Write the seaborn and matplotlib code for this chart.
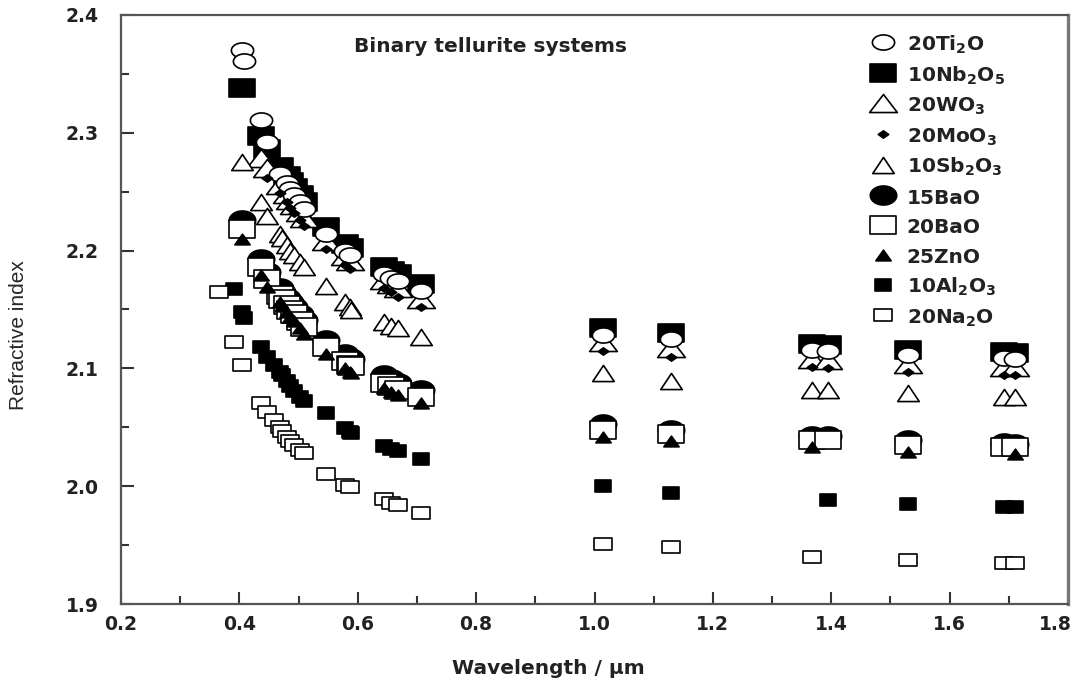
import numpy as np
import matplotlib
matplotlib.use("Agg")
import matplotlib.pyplot as plt
from matplotlib.path import Path
from matplotlib.transforms import ScaledTranslation
from matplotlib.ticker import MultipleLocator, FormatStrFormatter
import seaborn as sns

# ---------------- data (wavelength in um, refractive index) ----------------
W_TI = [0.4047, 0.4078, 0.4358, 0.4471, 0.4678, 0.4800, 0.4861, 0.4922, 0.5016, 0.5086, 0.5461, 0.5780,
        0.5876, 0.6438, 0.6563, 0.6678, 0.7065, 1.0140, 1.1287, 1.3673, 1.3951, 1.5295, 1.6920, 1.7109]
N_TI = [2.370, 2.361, 2.311, 2.292, 2.265, 2.257, 2.252, 2.247, 2.241, 2.235, 2.214, 2.200,
        2.196, 2.180, 2.177, 2.174, 2.166, 2.128, 2.125, 2.116, 2.115, 2.111, 2.109, 2.108]

W_NB = [0.4047, 0.4358, 0.4471, 0.4678, 0.4800, 0.4861, 0.4922, 0.5016, 0.5086, 0.5461, 0.5780, 0.5876,
        0.6438, 0.6563, 0.6678, 0.7065, 1.0140, 1.1287, 1.3673, 1.3951, 1.5295, 1.6920, 1.7109]
N_NB = [2.338, 2.297, 2.286, 2.271, 2.263, 2.258, 2.253, 2.247, 2.241, 2.220, 2.206, 2.202,
        2.186, 2.183, 2.180, 2.172, 2.134, 2.130, 2.121, 2.120, 2.116, 2.114, 2.113]

W_WO = [0.4358, 0.4471, 0.4678, 0.4800, 0.4861, 0.4922, 0.5016, 0.5086, 0.5461, 0.5780, 0.5876,
        0.6438, 0.6563, 0.6678, 0.7065, 1.0140, 1.1287, 1.3673, 1.3951, 1.5295, 1.6920, 1.7109]
N_WO = [2.279, 2.270, 2.256, 2.248, 2.243, 2.239, 2.233, 2.228, 2.208, 2.195, 2.191,
        2.175, 2.172, 2.168, 2.159, 2.122, 2.117, 2.108, 2.107, 2.104, 2.101, 2.101]

W_MO = [0.4471, 0.4678, 0.4800, 0.4861, 0.4922, 0.5016, 0.5086, 0.5461, 0.5780, 0.5876,
        0.6438, 0.6563, 0.6678, 0.7065, 1.0140, 1.1287, 1.3673, 1.3951, 1.5295, 1.6920, 1.7109]
N_MO = [2.262, 2.249, 2.241, 2.236, 2.232, 2.226, 2.221, 2.201, 2.188, 2.184,
        2.168, 2.165, 2.161, 2.152, 2.115, 2.110, 2.101, 2.100, 2.097, 2.094, 2.094]

W_SB = [0.4047, 0.4358, 0.4471, 0.4678, 0.4713, 0.4800, 0.4861, 0.4922, 0.5016, 0.5086, 0.5461, 0.5780,
        0.5876, 0.5893, 0.6438, 0.6563, 0.6678, 0.7065, 1.0140, 1.1287, 1.3673, 1.3951, 1.5295, 1.6920, 1.7109]
N_SB = [2.275, 2.241, 2.229, 2.214, 2.211, 2.205, 2.200, 2.196, 2.190, 2.186, 2.170, 2.156,
        2.152, 2.150, 2.139, 2.136, 2.134, 2.127, 2.096, 2.089, 2.082, 2.082, 2.079, 2.076, 2.076]

W_BA = [0.4047, 0.4358, 0.4471, 0.4678, 0.4713, 0.4800, 0.4861, 0.4922, 0.5016, 0.5086, 0.5461, 0.5780,
        0.5876, 0.5893, 0.6438, 0.6563, 0.6678, 0.7065, 1.0140, 1.1287, 1.3673, 1.3951, 1.5295, 1.6920, 1.7109]
N_BA15 = [2.226, 2.193, 2.182, 2.168, 2.165, 2.160, 2.156, 2.152, 2.146, 2.141, 2.124, 2.112,
          2.109, 2.108, 2.094, 2.091, 2.088, 2.082, 2.053, 2.048, 2.043, 2.043, 2.039, 2.037, 2.036]
N_BA20 = [2.218, 2.186, 2.176, 2.162, 2.159, 2.154, 2.150, 2.146, 2.140, 2.135, 2.118, 2.106,
          2.103, 2.102, 2.088, 2.085, 2.082, 2.076, 2.048, 2.044, 2.039, 2.039, 2.035, 2.033, 2.033]

W_ZN = [0.4047, 0.4358, 0.4471, 0.4678, 0.4713, 0.4800, 0.4861, 0.4922, 0.5016, 0.5086, 0.5461, 0.5780,
        0.5876, 0.5893, 0.6438, 0.6563, 0.6678, 0.7065, 1.0140, 1.1287, 1.3673, 1.5295, 1.7109]
N_ZN = [2.210, 2.179, 2.169, 2.156, 2.153, 2.148, 2.144, 2.140, 2.134, 2.129, 2.112, 2.100,
        2.097, 2.096, 2.083, 2.080, 2.077, 2.071, 2.042, 2.038, 2.033, 2.029, 2.027]

W_AL = [0.3910, 0.4047, 0.4078, 0.4358, 0.4471, 0.4580, 0.4678, 0.4713, 0.4800, 0.4861, 0.4922, 0.5016,
        0.5086, 0.5461, 0.5780, 0.5876, 0.5893, 0.6438, 0.6563, 0.6678, 0.7065, 1.0140, 1.1287, 1.3951,
        1.5295, 1.6920, 1.7109]
N_AL = [2.167, 2.148, 2.143, 2.118, 2.110, 2.103, 2.097, 2.094, 2.089, 2.085, 2.081, 2.076,
        2.072, 2.062, 2.049, 2.046, 2.045, 2.034, 2.032, 2.030, 2.023, 2.000, 1.994, 1.988,
        1.985, 1.982, 1.982]

W_NA = [0.3650, 0.3906, 0.4047, 0.4358, 0.4471, 0.4580, 0.4678, 0.4713, 0.4800, 0.4861, 0.4922, 0.5016,
        0.5086, 0.5461, 0.5780, 0.5876, 0.6438, 0.6563, 0.6678, 0.7065, 1.0140, 1.1287, 1.3673, 1.5295,
        1.6920, 1.7109]
N_NA = [2.165, 2.122, 2.103, 2.071, 2.063, 2.056, 2.050, 2.047, 2.042, 2.038, 2.035, 2.031,
        2.028, 2.010, 2.001, 1.999, 1.989, 1.986, 1.984, 1.977, 1.951, 1.948, 1.940, 1.937,
        1.935, 1.935]

LABELS = [r"20Ti$_{2}$O", r"10Nb$_{2}$O$_{5}$", r"20WO$_{3}$", r"20MoO$_{3}$", r"10Sb$_{2}$O$_{3}$",
          "15BaO", "20BaO", "25ZnO", r"10Al$_{2}$O$_{3}$", r"20Na$_{2}$O"]
X_TICKS = [0.2, 0.4, 0.6, 0.8, 1.0, 1.2, 1.4, 1.6, 1.8]
Y_TICKS = [1.9, 2.0, 2.1, 2.2, 2.3, 2.4]


# ---------------- marker shapes (wide, as in the reference) ----------------
def closed(v):
    v = np.asarray(v, float)
    return Path(np.vstack([v, v[:1]]), closed=True)


def ellipse(r):
    t = np.linspace(0, 2 * np.pi, 72, endpoint=False)
    return closed(np.column_stack([np.cos(t), r * np.sin(t)]))


def box(r):
    return closed([[-1, -r], [1, -r], [1, r], [-1, r]])


def tri(r):
    return closed([[-1, -r], [1, -r], [0, r]])


def diamond(r):
    return closed([[1, 0], [0, r], [-1, 0], [0, -r]])


sns.set_theme(style="ticks")
plt.rcParams['font.family'] = ['DejaVu Sans', 'Liberation Sans']
plt.rcParams['mathtext.fontset'] = 'custom'
plt.rcParams['mathtext.rm'] = 'DejaVu Sans:bold'
plt.rcParams['mathtext.it'] = 'DejaVu Sans:bold'
plt.rcParams['mathtext.bf'] = 'DejaVu Sans:bold'

fig = plt.figure(figsize=(10.8, 6.89), dpi=100)
ax = fig.add_axes([121 / 1080, 1 - 604 / 689, 947 / 1080, 589 / 689])

# (x, y, marker, width in pt, face colour, zorder)
series = [
    (W_TI, N_TI, ellipse(0.68), 16.0, 'white', 4),
    (W_NB, N_NB, box(0.66), 19.0, 'black', 2),
    (W_WO, N_WO, tri(0.65), 20.0, 'white', 3),
    (W_MO, N_MO, diamond(0.7), 7.5, 'black', 5),
    (W_SB, N_SB, tri(0.75), 15.5, 'white', 3),
    (W_BA, N_BA15, ellipse(0.72), 19.0, 'black', 2),
    (W_BA, N_BA20, box(0.66), 19.0, 'white', 3),
    (W_ZN, N_ZN, tri(0.7), 11.0, 'black', 4),
    (W_AL, N_AL, box(0.7), 11.5, 'black', 3),
    (W_NA, N_NA, box(0.68), 12.5, 'white', 3),
]

for (w, n, mk, ms, fc, z), lab in zip(series, LABELS):
    sns.scatterplot(x=w, y=n, ax=ax, marker=mk, s=ms ** 2, color=fc, edgecolor='black',
                    linewidth=1.2, label=lab, zorder=z)

ax.set_xlim(0.2, 1.8)
ax.set_ylim(1.9, 2.4)
ax.set_xticks(X_TICKS)
ax.set_yticks(Y_TICKS)
ax.xaxis.set_minor_locator(MultipleLocator(0.1))
ax.yaxis.set_minor_locator(MultipleLocator(0.05))
ax.xaxis.set_major_formatter(FormatStrFormatter('%.1f'))
ax.yaxis.set_major_formatter(FormatStrFormatter('%.1f'))
ax.tick_params(which='both', direction='in', top=False, right=False, color='#333333', width=1.5)
ax.tick_params(which='major', length=9, labelsize=13.5)
ax.tick_params(which='minor', length=6)
ax.tick_params(axis='x', which='major', pad=8)
ax.tick_params(axis='y', which='major', pad=16)
for lbl in ax.get_xticklabels() + ax.get_yticklabels():
    lbl.set_fontweight('bold')
    lbl.set_color('#222222')
# keep the last x tick label inside the picture
last = ax.get_xticklabels()[-1]
last.set_transform(last.get_transform() + ScaledTranslation(-9 / 72, 0, fig.dpi_scale_trans))

for sp in ['left', 'bottom', 'top']:
    ax.spines[sp].set_color('#555555')
    ax.spines[sp].set_linewidth(1.6)
ax.spines['right'].set_color('#777777')
ax.spines['right'].set_linewidth(2.4)

ax.set_xlabel("Wavelength / μm", fontsize=14.5, fontweight='bold', color='#222222')
ax.xaxis.set_label_coords(0.451, -0.093)
ax.set_ylabel("Refractive index", fontsize=15,
              family=['Liberation Sans Narrow', 'Liberation Sans', 'DejaVu Sans'])
ax.yaxis.set_label_coords(-0.098, 0.457)

ax.text(0.39, 0.946, "Binary tellurite systems", transform=ax.transAxes, ha='center', va='center',
        fontsize=14.5, fontweight='bold', color='#222222')

leg = ax.legend(loc='upper left', bbox_to_anchor=(0.786, 0.970), frameon=False,
                prop={'weight': 'bold', 'size': 14.5}, handlelength=1.75, handleheight=1.35,
                handletextpad=0.3, labelspacing=0.36, borderpad=0, borderaxespad=0,
                scatterpoints=1)
for txt in leg.get_texts():
    txt.set_color('#222222')

fig.savefig("out.png", dpi=100)
